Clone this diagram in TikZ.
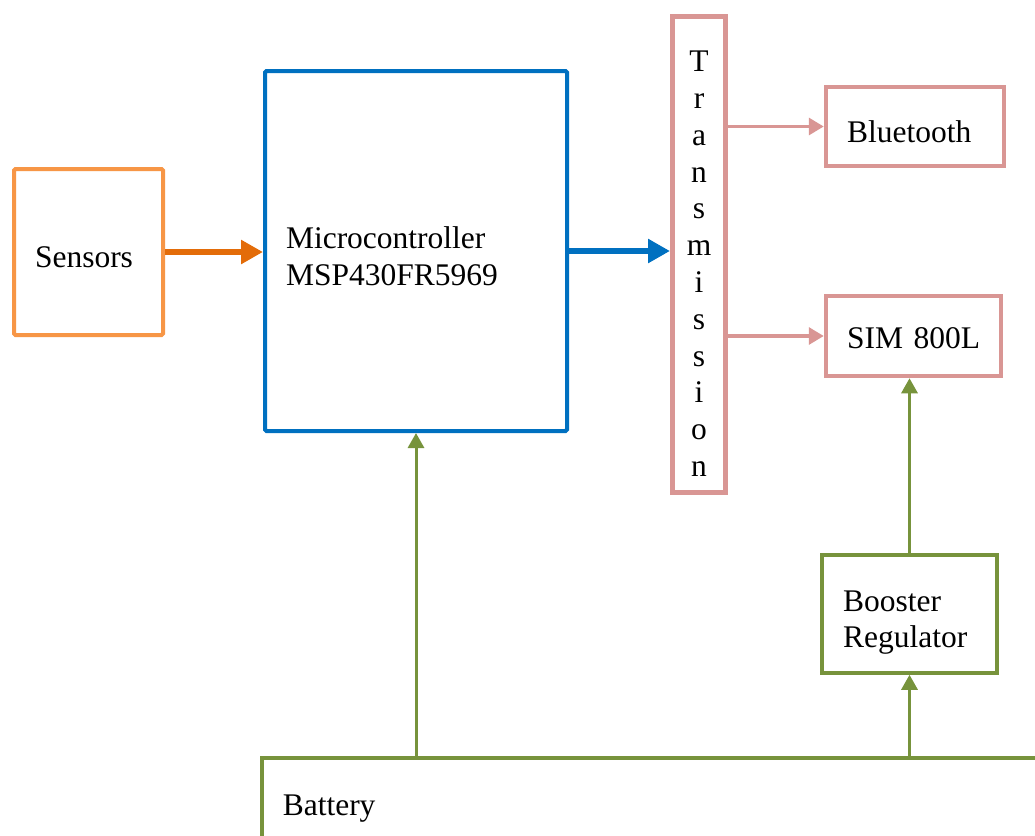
\documentclass[tikz,border=0pt]{standalone}
\usepackage{fontspec}
\setmainfont{Liberation Serif}
\usepackage{xcolor}
\definecolor{sensorange}{RGB}{247,150,70}
\definecolor{flowrange}{RGB}{227,108,9}
\definecolor{mcublue}{RGB}{0,112,192}
\definecolor{txpink}{RGB}{217,150,148}
\definecolor{pwrgreen}{RGB}{119,147,60}
\usepackage{tikz}
\usetikzlibrary{arrows.meta,positioning}
\tikzset{
  bd_box/.style={rectangle,fill=white,
    align=left,inner xsep=21pt,inner ysep=0pt,
    font=\fontsize{31.5}{36.5}\selectfont},
  bd_sens/.style={bd_box,draw=sensorange,line width=4pt,
    rounded corners=1.5pt,text width=107pt,minimum height=166pt},
  bd_mcu/.style={bd_box,draw=mcublue,line width=4pt,
    rounded corners=1.5pt,text width=260pt,minimum height=360pt},
  bd_tx/.style={rectangle,draw=txpink,line width=5pt,
    align=center,inner sep=0pt,minimum width=53pt,minimum height=476pt,
    font=\fontsize{31.5}{36.8}\selectfont},
  bd_link/.style={bd_box,draw=txpink,line width=4.5pt,
    text width=133pt,minimum height=80pt},
  bd_pwr/.style={bd_box,draw=pwrgreen,line width=3.5pt,
    text width=133pt,minimum height=118pt},
  arr_data/.style={-{Triangle[length=22pt,width=23pt]},line width=6pt},
  arr_link/.style={-{Triangle[length=15pt,width=17pt]},line width=3.2pt,draw=txpink},
  arr_pwr/.style={-{Triangle[length=15pt,width=16pt]},line width=3pt,draw=pwrgreen},
}

\begin{document}
\begin{tikzpicture}[x=1pt,y=-1pt]
  \clip (0,0) rectangle (1035,835);

  \node (sensors) [bd_sens,text height=32pt] at (88.5,252) {Sensors};

  \node (mcu) [bd_mcu] at (416,251)
    {\rule{0pt}{32pt}Microcontroller\\MSP430FR5969};

  \node (tx) [bd_tx] at (699,254.5)
    {\rule{0pt}{39pt}T\\r\\a\\n\\s\\m\\i\\s\\s\\i\\o\\n};

  \node (bt) [bd_link,text width=136pt,minimum height=79pt,
              text height=33pt] at (915,126.5) {Bluetooth};

  \node (sim) [bd_link,text height=26pt] at (913.5,336) {SIM~800L};

  \node (boost) [bd_pwr] at (909.5,614)
    {\rule{0pt}{38pt}Booster\\Regulator};

  \node (battery) [bd_pwr,anchor=north west,text width=858pt,
                   minimum height=101pt] at (260,756) {Battery};

  \draw[arr_data,draw=flowrange] (sensors.east) -- (sensors.east -| mcu.west);
  \draw[arr_data,draw=mcublue] (mcu.east) -- (mcu.east -| tx.west);
  \draw[arr_link] (bt.west -| tx.east) -- (bt.west);
  \draw[arr_link] (sim.west -| tx.east) -- (sim.west);
  \draw[arr_pwr] (battery.north -| mcu.south) -- (mcu.south);
  \draw[arr_pwr] (battery.north -| boost.south) -- (boost.south);
  \draw[arr_pwr] (boost.north) -- (boost.north |- sim.south);

\end{tikzpicture}
\end{document}
